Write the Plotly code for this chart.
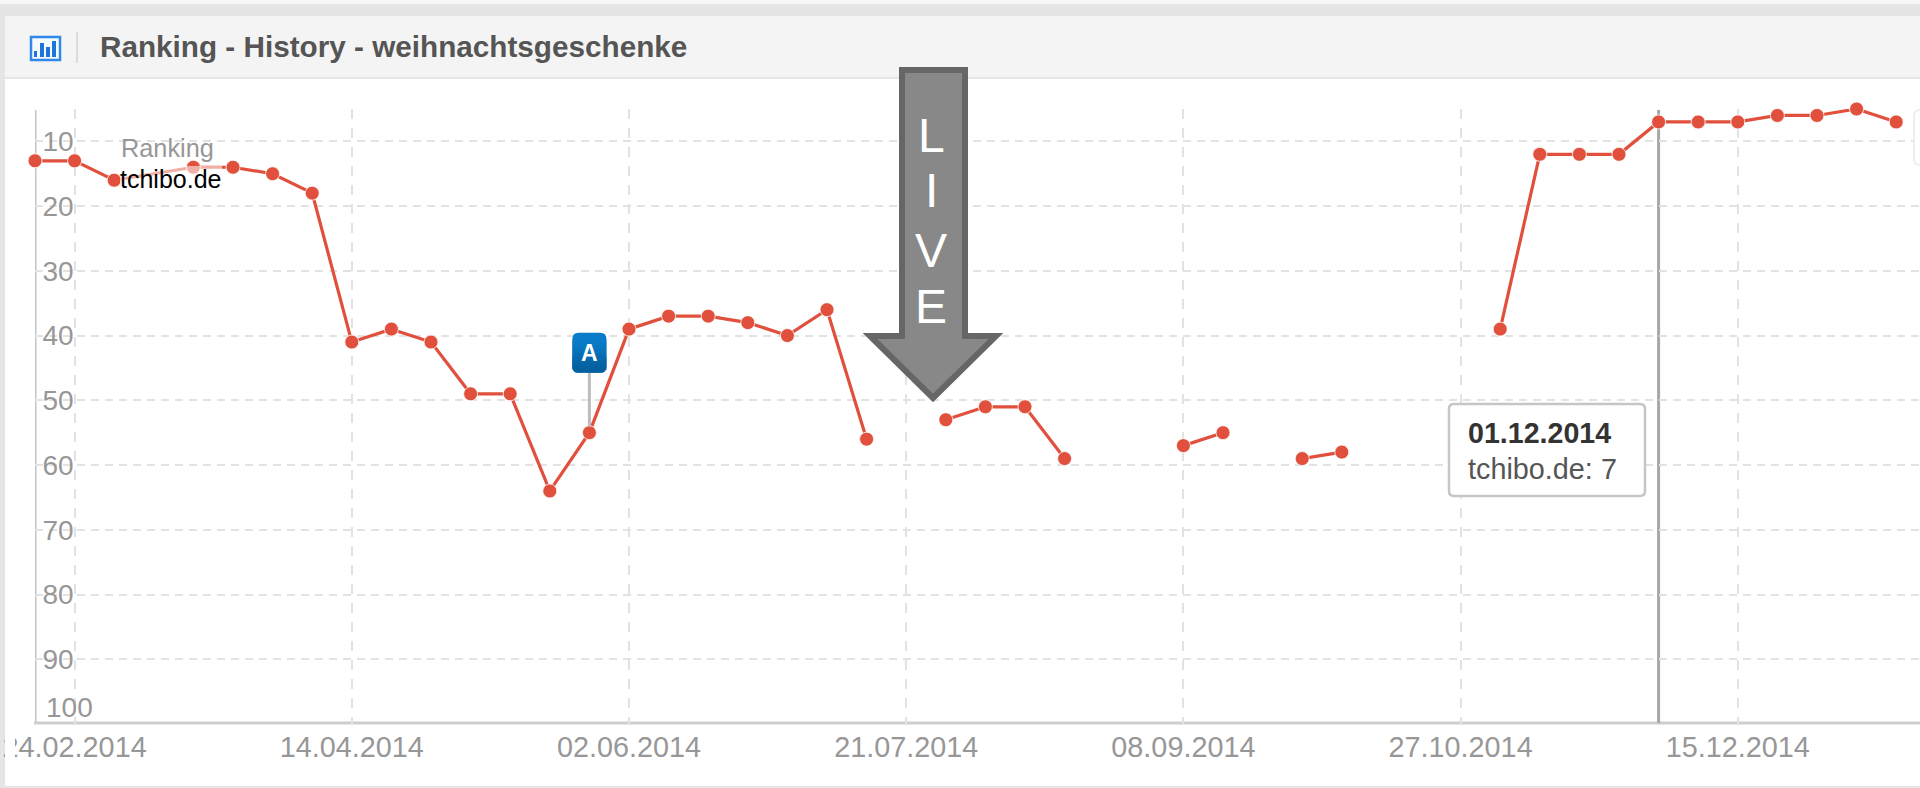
import plotly.graph_objects as go
import pandas as pd

# ---- data ----
START_DATE = "2014-02-17"
RANKS = [13, 13, 16, 15, 14, 14, 15, 18, 41, 39, 41, 49, 49, 64, 55, 39, 37, 37, 38, 40, 36, 56,
         None, 53, 51, 51, 59, None, None, 57, 55, None, 59, 58, None, None, None, 39,
         12, 12, 12, 7, 7, 7, 6, 6, 5, 7]
HIDDEN_MARKER_INDEX = 3
SERIES_NAME = "tchibo.de"
Y_TICKS = [10, 20, 30, 40, 50, 60, 70, 80, 90]
X_TICK_DATES = ["2014-02-24", "2014-04-14", "2014-06-02", "2014-07-21", "2014-09-08", "2014-10-27", "2014-12-15"]
X_TICK_LABELS = ["24.02.2014", "14.04.2014", "02.06.2014", "21.07.2014", "08.09.2014", "27.10.2014", "15.12.2014"]
TITLE = "Ranking - History - weihnachtsgeschenke"
TOOLTIP_DATE = "2014-12-01"
TOOLTIP_LABEL = "01.12.2014"
TOOLTIP_VALUE = "tchibo.de: 7"
FLAG_DATE = "2014-05-26"
FLAG_VALUE = 55

dates = pd.date_range(START_DATE, periods=len(RANKS), freq="7D")
W, H = 1920, 788
FONT = "Liberation Sans"
GREY_TXT = "#979797"


def px(x):
    return x / W


def py(y):
    return 1 - y / H


def rrect(x0, y0, x1, y1, r, fx=px, fy=py):
    X0, X1, Y0, Y1 = fx(x0), fx(x1), fy(y0), fy(y1)
    rx, ry = fx(x0 + r) - X0, fy(y0 + r) - Y0
    return (f"M{X0+rx},{Y0} L{X1-rx},{Y0} Q{X1},{Y0} {X1},{Y0+ry} L{X1},{Y1-ry} Q{X1},{Y1} {X1-rx},{Y1} "
            f"L{X0+rx},{Y1} Q{X0},{Y1} {X0},{Y1-ry} L{X0},{Y0+ry} Q{X0},{Y0} {X0+rx},{Y0} Z")


def box(x0, y0, x1, y1, fill, layer="above", line=None, lw=0):
    return dict(type="rect", xref="paper", yref="paper", x0=px(x0), x1=px(x1), y0=py(y0), y1=py(y1),
                fillcolor=fill, line=dict(color=line or fill, width=lw), layer=layer)


def label(text, x, y, size, color, anchor="left", bold=False):
    return dict(text=f"<b>{text}</b>" if bold else text, x=px(x), y=py(y), xref="paper", yref="paper",
                xanchor=anchor, yanchor="middle", showarrow=False, borderpad=0, borderwidth=0,
                font=dict(family=FONT, size=size, color=color))


fig = go.Figure(go.Scatter(
    x=dates, y=RANKS, mode="lines+markers", name=SERIES_NAME, cliponaxis=False, connectgaps=False,
    line=dict(color="#e0503c", width=3.2),
    marker=dict(color="#e0503c", opacity=1, line=dict(color="rgba(255,255,255,0.8)", width=1),
                size=[0 if i == HIDDEN_MARKER_INDEX else 14 for i in range(len(RANKS))]),
))

shapes = [
    # page frame + header
    box(0, 0, W, 4, "#f6f6f6", "below"),
    box(0, 4, W, 16, "#e5e5e5", "below"),
    box(0, 16, 5, H, "#e5e5e5", "below"),
    box(0, 786, W, H, "#e5e5e5", "below"),
    box(5, 16, W, 78, "#f4f4f4", "below"),
    box(5, 77, W, 79, "#e6e6e6", "below"),
    box(76, 32, 78, 63, "#dcdcdc", "below"),
    # chart icon
    dict(type="rect", xref="paper", yref="paper", x0=px(31), x1=px(60), y0=py(37), y1=py(60),
         fillcolor="#f4fafe", line=dict(color="#2f88ea", width=2.5), layer="below"),
    box(34, 51, 37, 57, "#1f74dc", "below"),
    box(40, 43, 44, 57, "#1f74dc", "below"),
    box(46, 47, 50, 57, "#1f74dc", "below"),
    box(52, 41, 56, 57, "#1f74dc", "below"),
    # axis lines
    dict(type="line", xref="x", yref="paper", x0=START_DATE, x1=START_DATE, y0=py(110), y1=py(723),
         line=dict(color="#c4c4c4", width=3), layer="below"),
    dict(type="line", xref="paper", yref="paper", x0=px(34), x1=1, y0=py(723), y1=py(723),
         line=dict(color="#cdcdcd", width=3), layer="below"),
    # crosshair
    dict(type="line", xref="x", yref="paper", x0=TOOLTIP_DATE, x1=TOOLTIP_DATE, y0=py(110), y1=py(723),
         line=dict(color="#a8a8a8", width=3), layer="below"),
    # right-edge legend box
    dict(type="path", xref="paper", yref="paper", path=rrect(1914, 110, 1935, 165, 6),
         fillcolor="#ffffff", line=dict(color="#eeeeee", width=2), layer="above"),
    # clipped left side of the first tick label
    box(5, 726, 15, 770, "#ffffff"),
    # legend veil over the line
    box(120, 166, 222, 192, "rgba(255,255,255,0.55)"),
    # LIVE arrow
    dict(type="path", xref="paper", yref="paper",
         path=(f"M{px(902)},{py(70)} L{px(965)},{py(70)} L{px(965)},{py(336)} L{px(996)},{py(336)} "
               f"L{px(933)},{py(398)} L{px(870)},{py(336)} L{px(902)},{py(336)} Z"),
         fillcolor="#888888", line=dict(color="#666666", width=6), layer="above"),
    # tooltip
    dict(type="path", xref="paper", yref="paper", path=rrect(1449, 404, 1645, 496, 5),
         fillcolor="rgba(255,255,255,0.96)", line=dict(color="#c6c6c6", width=2.5), layer="above"),
]

# flag "A", anchored on its data point
def pin(x0, x1, y0, y1, fill):
    return dict(type="rect", xref="x", yref="y", xsizemode="pixel", ysizemode="pixel",
                xanchor=FLAG_DATE, yanchor=FLAG_VALUE, x0=x0, x1=x1, y0=y0, y1=y1,
                fillcolor=fill, line=dict(width=0), layer="above")


def pin_round(y0, y1, fill):
    x0, x1, r = -17, 17, 6
    p = (f"M{x0+r},{y1} L{x1-r},{y1} Q{x1},{y1} {x1},{y1-r} L{x1},{y0+r} Q{x1},{y0} {x1-r},{y0} "
         f"L{x0+r},{y0} Q{x0},{y0} {x0},{y0+r} L{x0},{y1-r} Q{x0},{y1} {x0+r},{y1} Z")
    return dict(type="path", xref="x", yref="y", xsizemode="pixel", ysizemode="pixel",
                xanchor=FLAG_DATE, yanchor=FLAG_VALUE, path=p, fillcolor=fill, line=dict(width=0), layer="above")


shapes += [pin(-1.5, 1.5, 6, 60, "#bdbdbd"), pin_round(60, 100, "#0a7cc9"), pin_round(60, 80, "#05609f")]
top, bottom = (10, 124, 201), (5, 96, 159)
for i in range(10):
    t = i / 9
    c = tuple(round(a + (b - a) * t) for a, b in zip(top, bottom))
    shapes.append(pin(-17, 17, 93 - 3 * i - 3, 93 - 3 * i, f"rgb{c}"))

annotations = [
    label(TITLE, 100, 46, 29.7, "#555555", bold=True),
    label("Ranking", 121, 148, 25.3, GREY_TXT),
    label(SERIES_NAME, 120, 179, 25, "#000000"),
    label(TOOLTIP_LABEL, 1468, 433, 28.6, "#333333", bold=True),
    label(TOOLTIP_VALUE, 1468, 469, 28.8, "#555555"),
    dict(text="100", xref="paper", yref="y", x=px(45), y=100, yshift=17, xanchor="left", yanchor="middle",
         showarrow=False, borderpad=0, font=dict(family=FONT, size=28, color=GREY_TXT)),
    dict(text="<b>A</b>", xref="x", yref="y", x=FLAG_DATE, y=FLAG_VALUE, yshift=80, showarrow=False,
         font=dict(family=FONT, size=23, color="#ffffff")),
]
for ch, y in zip("LIVE", [135, 190, 250, 306]):
    annotations.append(label(ch, 931, y, 48, "#ffffff", anchor="center"))

fig.update_layout(
    width=W, height=H, autosize=False, margin=dict(l=0, r=0, t=0, b=0, pad=0),
    paper_bgcolor="#ffffff", plot_bgcolor="#ffffff", showlegend=False,
    font=dict(family=FONT),
    shapes=shapes, annotations=annotations,
    xaxis=dict(
        type="date", domain=[px(35), 1], range=["2014-02-17", "2015-01-16 05:00"], automargin=False,
        tickmode="array", tickvals=X_TICK_DATES, ticktext=X_TICK_LABELS, ticks="", ticklabelstandoff=-3,
        tickfont=dict(family=FONT, size=28.8, color=GREY_TXT), tickangle=0,
        showgrid=True, gridcolor="#e2e2e2", gridwidth=2, griddash="10px,9px",
        showline=True, linecolor="rgba(0,0,0,0)", linewidth=1, zeroline=False,
    ),
    yaxis=dict(
        domain=[py(724), py(109)], range=[100, 5], tickmode="array", tickvals=Y_TICKS, ticks="", automargin=False,
        ticklabelposition="inside", ticklabelstandoff=10,
        tickfont=dict(family=FONT, size=28, color=GREY_TXT),
        showgrid=True, gridcolor="#e2e2e2", gridwidth=2, griddash="8px,6px",
        showline=True, linecolor="rgba(0,0,0,0)", linewidth=1, zeroline=False,
    ),
)

fig.write_html("out.html", config=dict(displayModeBar=False),
               post_script="document.body.style.margin='0';document.body.style.overflow='hidden';")
